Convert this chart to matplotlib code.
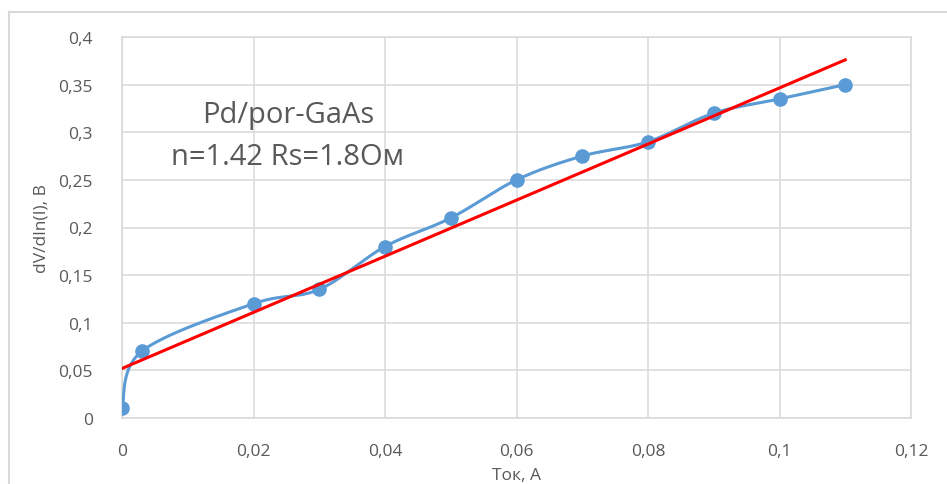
#!/usr/bin/env python3
"""dV/dln(I) vs current for Pd/por-GaAs, Excel-style smoothed line + linear fit."""

import matplotlib
matplotlib.use("Agg")
import matplotlib.pyplot as plt
import numpy as np
from matplotlib.lines import Line2D
from matplotlib.ticker import FuncFormatter, MultipleLocator

plt.rcParams["font.family"] = ["Open Sans", "DejaVu Sans"]

# ---------------------------------------------------------------------------
# Data
# ---------------------------------------------------------------------------
current = [0.0, 0.003, 0.02, 0.03, 0.04, 0.05, 0.06, 0.07, 0.08, 0.09, 0.10, 0.11]
dv_dlni = [0.01, 0.07, 0.12, 0.135, 0.18, 0.21, 0.25, 0.275, 0.29, 0.32, 0.335, 0.35]

fit_x = [0.0, 0.11]
fit_y = [0.052, 0.376]

note_lines = ["Pd/por-GaAs", "n=1.42 Rs=1.8Ом"]

BLUE = "#5B9BD5"
RED = "#FF0000"
GRID = "#D9D9D9"
TEXT = "#595959"


def smooth_curve(x, y, steps=30):
    """Bezier smoothing through the points, similar to Excel's smoothed line."""
    x = np.asarray(x, float)
    y = np.asarray(y, float)
    px = np.concatenate([[x[0]], x, [x[-1]]])
    py = np.concatenate([[y[0]], y, [y[-1]]])
    t = np.linspace(0, 1, steps)
    xs, ys = [], []
    for i in range(1, len(px) - 2):
        p0 = np.array([px[i], py[i]])
        p3 = np.array([px[i + 1], py[i + 1]])
        p1 = p0 + (np.array([px[i + 1], py[i + 1]]) - np.array([px[i - 1], py[i - 1]])) / 6
        p2 = p3 - (np.array([px[i + 2], py[i + 2]]) - np.array([px[i], py[i]])) / 6
        b = ((1 - t) ** 3)[:, None] * p0 + (3 * (1 - t) ** 2 * t)[:, None] * p1 \
            + (3 * (1 - t) * t ** 2)[:, None] * p2 + (t ** 3)[:, None] * p3
        xs.append(b[:, 0])
        ys.append(b[:, 1])
    return np.concatenate(xs), np.concatenate(ys)


def comma(v, _pos):
    return f"{v:g}".replace(".", ",")


fig = plt.figure(figsize=(9.47, 4.85), dpi=100)
ax = fig.add_axes([122 / 947, 66 / 485, 789 / 947, 381 / 485])

# outer chart border (left + top, runs off the right/bottom of the picture)
fig.add_artist(Line2D([9 / 947, 9 / 947], [0, 1 - 13 / 485], transform=fig.transFigure,
                      color=GRID, lw=1.5))
fig.add_artist(Line2D([9 / 947, 1], [1 - 13 / 485, 1 - 13 / 485], transform=fig.transFigure,
                      color=GRID, lw=1.5))

sx, sy = smooth_curve(current, dv_dlni)
ax.plot(sx, sy, color=BLUE, lw=2.2, zorder=3)
ax.plot(current, dv_dlni, "o", color=BLUE, ms=9.5, zorder=4)
ax.plot(fit_x, fit_y, color=RED, lw=2.2, zorder=5)

ax.set_xlim(0, 0.12)
ax.set_ylim(0, 0.4)
ax.xaxis.set_major_locator(MultipleLocator(0.02))
ax.yaxis.set_major_locator(MultipleLocator(0.05))
ax.xaxis.set_major_formatter(FuncFormatter(comma))
ax.yaxis.set_major_formatter(FuncFormatter(comma))
ax.grid(True, color=GRID, lw=1.1)
ax.set_axisbelow(True)
for s in ax.spines.values():
    s.set_color(GRID)
    s.set_linewidth(1.1)
ax.tick_params(length=0, labelsize=12.5, labelcolor=TEXT)
ax.tick_params(axis="x", pad=18)
ax.tick_params(axis="y", pad=21)

ax.set_xlabel("Ток, А", fontsize=12.5, color=TEXT, labelpad=6)
ax.set_ylabel("dV/dln(I), В", fontsize=12.5, color=TEXT, labelpad=6)

ax.text(0.0252, 0.319, note_lines[0], ha="center", va="center",
        fontsize=21, color=TEXT)
ax.text(0.0252, 0.2745, note_lines[1], ha="center", va="center",
        fontsize=21, color=TEXT)

fig.savefig("out.png", dpi=100)
